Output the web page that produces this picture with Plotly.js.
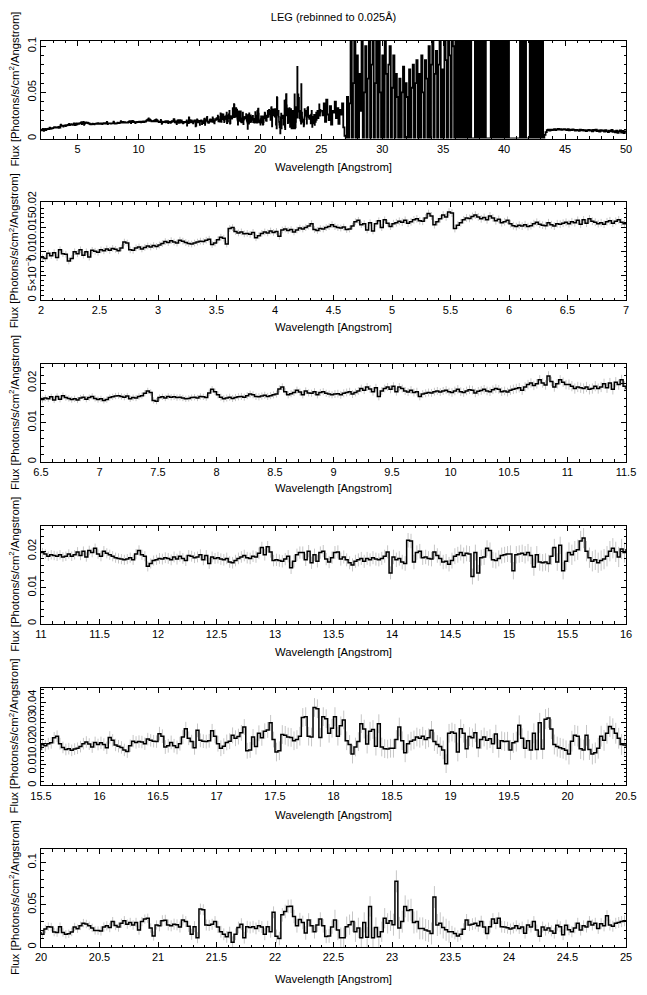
<!DOCTYPE html>
<html><head><meta charset="utf-8">
<script src="https://cdn.plot.ly/plotly-3.0.1.min.js"></script>
<style>html,body{margin:0;padding:0;background:#fff}#chart{width:647px;height:995px}</style>
</head><body><div id="chart"></div>
<script>
// Spectrum values (units of 1e-4 photons/s/cm^2/Angstrom), 0.025 A bins starting at 2.0 A
const binStart = 2.0;
const binWidth = 0.025;
const flux2to7 = [
 88,86,97,92,98,88,104,96,95,81,86,100,96,104,93,100,89,103,101,99,
 104,102,106,103,107,105,102,108,120,118,104,103,108,110,106,109,112,110,113,111,
 114,117,121,119,123,120,118,124,122,119,117,116,118,120,122,121,124,126,115,118,
 125,130,128,116,148,150,142,139,141,137,138,136,140,129,133,138,141,139,143,140,
 142,132,145,147,144,146,141,145,149,147,150,153,158,146,144,148,147,150,152,156,
 152,150,149,151,146,147,153,162,165,156,158,145,160,143,158,164,150,166,159,152,
 158,160,163,161,165,159,162,166,168,164,163,170,179,174,156,162,168,176,172,182,
 180,148,155,160,166,170,169,173,176,172,168,171,166,174,170,164,167,160,162,165,
 158,154,152,155,153,156,152,154,158,161,157,155,154,160,156,153,158,157,159,161,
 158,162,160,165,157,166,159,168,163,161,158,160,157,162,164,159,163,166,161,158];
const flux7to11 = [
 160,156,158,163,165,167,168,166,164,167,160,163,162,166,168,174,180,176,156,154,
 163,165,162,166,164,165,163,164,162,160,161,163,164,162,166,165,163,175,184,178,
 170,164,160,162,164,161,163,165,166,164,168,172,170,166,165,167,169,166,168,170,
 172,185,190,178,170,173,176,182,177,170,180,175,174,178,170,176,178,174,172,170,
 172,173,170,174,176,178,172,176,180,186,182,190,185,178,188,166,180,186,190,184,
 192,178,190,186,180,177,182,176,178,166,172,174,176,175,178,180,177,180,182,178,
 176,180,184,178,176,180,183,182,175,179,181,184,180,178,183,186,184,178,180,177,
 182,184,186,188,182,190,196,200,194,198,208,200,195,218,204,190,198,208,202,196];
const flux11to15p5 = [
 196,192,186,190,188,186,190,184,186,192,186,190,198,188,200,184,202,196,208,192,
 186,200,194,190,186,182,180,178,176,178,182,176,192,202,190,186,158,166,174,176,
 180,178,182,180,176,184,178,186,180,174,188,186,182,184,190,176,188,166,184,180,
 182,178,176,180,170,168,174,180,184,188,182,180,186,184,194,210,190,212,198,174,
 176,174,172,178,186,154,172,190,196,196,176,200,168,190,172,196,200,178,170,182,
 196,198,178,184,176,168,162,172,176,180,172,180,176,182,178,176,180,186,198,140,
 184,176,180,170,166,230,228,170,196,200,182,184,180,178,198,188,180,170,172,164,
 174,186,190,196,188,194,192,130,196,140,182,184,208,202,176,174,180,188,190,192,
 192,146,190,192,194,190,196,188,156,190,170,168,170,166,186,210,170,216,146,172];
const flux15p5to20 = [
 196,190,200,204,228,236,200,182,172,176,168,174,178,186,200,208,198,184,206,196,
 204,196,180,230,216,194,188,182,170,162,190,212,206,210,208,200,222,216,212,210,
 248,236,184,190,206,190,182,200,232,272,226,210,180,264,216,212,210,214,262,236,
 200,178,188,206,212,240,226,234,252,280,166,170,232,186,250,228,260,266,300,220,
 160,166,244,240,232,230,214,220,236,326,330,236,232,374,368,230,330,320,250,274,
 330,236,286,314,214,196,150,184,210,296,270,198,260,268,188,296,184,176,174,178,
 178,220,280,214,156,200,212,218,232,226,236,220,228,264,210,196,186,170,104,250,
 256,250,160,272,250,176,234,228,252,180,220,232,216,224,200,246,178,214,210,212,
 170,204,210,288,226,178,214,170,250,172,300,174,318,324,270,196,186,180,176,168];
const flux20to25 = [
 150,212,240,236,176,170,240,172,150,156,178,236,216,250,282,272,250,226,196,194,
 190,236,250,230,300,254,236,280,310,270,290,260,290,200,300,330,340,224,130,260,
 250,310,316,260,250,270,262,236,320,300,244,150,240,110,448,440,260,256,268,300,
 236,180,150,120,170,56,150,230,270,110,240,230,240,220,250,236,150,240,180,410,
 126,100,380,420,480,482,360,250,324,290,166,320,250,180,260,330,250,125,130,236,
 320,200,110,110,240,264,300,180,226,110,290,116,480,110,230,120,180,340,280,310,
 264,776,226,300,480,430,440,290,300,220,220,200,190,160,590,260,280,230,204,180,
 180,160,130,150,210,320,260,270,280,250,300,236,160,240,330,280,340,240,236,228,
 212,226,250,220,236,164,260,236,300,200,126,236,200,224,190,164,258,240,146,258,
 204,180,226,280,200,250,236,300,260,280,220,276,250,370,260,246,280,290,300,310];
// 1-sigma error level (1e-4 units) for each 0.5 A stretch from 2.0 to 25.0
const errPerHalfAngstrom = [7,7,7,7,7,7,8,8,8,8, 8,8,9,9,10,10,11,12,
 13,14,15,16,17,18,20,22,24, 28,30,33,38,45,45,45,45,48, 50,55,65,70,80,120,130,70,65,65];
// Long-wavelength part for the overview (0.1 A bins from 25.0 to 50.0), 1e-4 units
const longStart = 25.0;
const longWidth = 0.1;
const fluxLong = [
 300,250,380,180,420,260,200,350,150,300, 280,400,220,330,160,310,260,380,120,30,
 0,450,0,380,1200,0,600,1200,0,900, 0,700,300,1200,0,500,1000,0,650,1200,
 0,800,1200,0,600,1100,0,1200,500,0, 900,0,1200,700,0,800,1000,0,550,900,
 0,700,450,0,650,0,500,780,0,600, 450,0,750,0,550,800,0,600,850,0,
 700,0,900,500,0,850,650,0,1000,0, 800,1200,0,700,950,0,800,1200,0,750,
 0,1200,850,0,1200,900,0,1200,1000,0, 1200,0,1200,0,1200,0,1200,0,1200,0,
 1200,0,1200,0,0,0,1200,0,1200,0, 1200,0,1200,0,1200,0,0,0,0,1200,
 0,1200,0,1200,0,1200,0,1200,0,1200, 0,1200,0,1200,0,0,0,0,0,0,
 0,0,0,1200,0,1200,0,1200,0,0, 0,1200,0,1200,0,1200,0,1200,0,1200,
 0,1200,0,40,70,90,95,85,95,90, 95,100,92,98,105,96,100,94,98,102,
 96,92,100,88,95,90,98,94,86,92, 90,84,95,88,92,86,90,80,88,94,
 86,90,78,92,85,96,80,88,76,90, 82,88,74,90,80,70,86,78,92,72,
 80,68,84,60,78,88,64,82,58,76];

// Axis ticks (values and labels)
const xRanges = [[2,50],[2,7],[6.5,11.5],[11,16],[15.5,20.5],[20,25]];
const yRanges = [[0,0.106],[0,0.0202],[0,0.0248],[0,0.027],[0,0.047],[0,0.1156]];
const xMajor = [5,0.5,0.5,0.5,0.5,0.5];
const xMinor = [1,0.1,0.1,0.1,0.1,0.1];
const yTickVals = [[0,0.05,0.1],[0,0.005,0.01,0.015,0.02],[0,0.01,0.02],[0,0.01,0.02],[0,0.01,0.02,0.03,0.04],[0,0.05,0.1]];
const yTickText = [['0','0.05','0.1'],['0','5×10<sup>−3</sup>','0.01','0.015','0.02'],['0','0.01','0.02'],['0','0.01','0.02'],['0','0.01','0.02','0.03','0.04'],['0','0.05','0.1']];
const yMinor = [0.01,0.001,0.002,0.002,0.002,0.01];
const titleText = 'LEG (rebinned to 0.025Å)';
const xTitle = 'Wavelength [Angstrom]';
const yTitle = 'Flux [Photons/s/cm<sup>2</sup>/Angstrom]';

// ---- build ----
const flux = [].concat(flux2to7, flux7to11, flux11to15p5, flux15p5to20, flux20to25).map(v => v * 1e-4);
const err = flux.map((v, i) => errPerHalfAngstrom[Math.floor(i / 20)] * 1e-4);
const left = flux.map((v, i) => binStart + i * binWidth);
const center = left.map(l => l + binWidth / 2);
const longVals = fluxLong.map(v => v * 1e-4);
const longLeft = longVals.map((v, i) => longStart + i * longWidth);

const W = 647, H = 995, L = 41, R = 21;
const FONT = 'Liberation Sans, Arial, sans-serif';
const panelTop = [40.7, 202.4, 364.1, 525.8, 687.5, 849.2];
const panelH = 97.8;
const xTitleY = [167, 327, 488, 652, 815, 979];
const pw = W - L - R;

const traces = [];
const layout = {
  width: W, height: H, showlegend: false,
  margin: {l: L, r: R, t: 0, b: 0, autoexpand: false},
  paper_bgcolor: '#fff', plot_bgcolor: '#fff',
  font: {family: FONT, size: 11, color: '#000'},
  title: {text: titleText, x: 0.5, xref: 'paper', xanchor: 'center', y: 1 - 17 / H, yref: 'container', yanchor: 'middle', font: {family: FONT, size: 11, color: '#000'}},
  annotations: []
};

for (let p = 0; p < 6; p++) {
  const xa = p === 0 ? 'x' : 'x' + (p + 1);
  const ya = p === 0 ? 'y' : 'y' + (p + 1);
  const [lo, hi] = xRanges[p];
  const idx = [];
  for (let i = 0; i < flux.length; i++) if (center[i] > lo - binWidth && center[i] < hi + binWidth) idx.push(i);
  if (p > 0) {
    traces.push({type: 'scatter', mode: 'markers', x: idx.map(i => center[i]), y: idx.map(i => flux[i]), xaxis: xa, yaxis: ya,
      marker: {size: 1, color: 'rgba(0,0,0,0)'}, hoverinfo: 'skip',
      error_y: {type: 'data', array: idx.map(i => err[i]), visible: true, color: '#c6c6c6', thickness: 1, width: 0}});
  }
  const last = idx[idx.length - 1];
  const sx = idx.map(i => left[i]).concat([left[last] + binWidth]);
  const sy = idx.map(i => flux[i]).concat([flux[last]]);
  traces.push({type: 'scatter', mode: 'lines', x: sx, y: sy, xaxis: xa, yaxis: ya,
    line: {color: '#000', width: p === 0 ? 1.6 : 1.5, shape: 'hv'}, hoverinfo: 'skip'});
  if (p === 0) {
    traces.push({type: 'scatter', mode: 'lines', xaxis: xa, yaxis: ya, hoverinfo: 'skip',
      x: longLeft.concat([longLeft[longLeft.length - 1] + longWidth]),
      y: longVals.concat([longVals[longVals.length - 1]]),
      line: {color: '#000', width: 1.8, shape: 'hv'}});
  }

  const top = panelTop[p], bot = top + panelH;
  const axCommon = {showline: true, linecolor: '#000', linewidth: 1, mirror: 'ticks', ticks: 'inside',
    ticklen: 5, tickwidth: 1, tickcolor: '#000', showgrid: false, zeroline: false,
    tickfont: {family: FONT, size: 11, color: '#000'}, automargin: false, fixedrange: true};
  layout[p === 0 ? 'xaxis' : 'xaxis' + (p + 1)] = Object.assign({}, axCommon, {
    domain: [0, 1], anchor: ya, range: xRanges[p], tickmode: 'linear', tick0: 0, dtick: xMajor[p],
    minor: {tickmode: 'linear', tick0: 0, dtick: xMinor[p], ticks: 'inside', ticklen: 2.5, tickwidth: 1, tickcolor: '#000', showgrid: false}});
  layout[p === 0 ? 'yaxis' : 'yaxis' + (p + 1)] = Object.assign({}, axCommon, {
    domain: [1 - bot / H, 1 - top / H], anchor: xa, range: yRanges[p], tickmode: 'array',
    tickvals: yTickVals[p], ticktext: yTickText[p], tickangle: -90,
    minor: {tickmode: 'linear', tick0: 0, dtick: yMinor[p], ticks: 'inside', ticklen: 2.5, tickwidth: 1, tickcolor: '#000', showgrid: false}});
  layout.annotations.push({text: xTitle, xref: 'paper', yref: 'paper', x: 0.5, y: 1 - xTitleY[p] / H,
    xanchor: 'center', yanchor: 'middle', showarrow: false, font: {family: FONT, size: 11.3, color: '#000'}});
  layout.annotations.push({text: yTitle, xref: 'paper', yref: 'paper', x: (14 - L) / pw, y: 1 - (top + panelH / 2) / H,
    xanchor: 'center', yanchor: 'middle', textangle: -90, showarrow: false, font: {family: FONT, size: 11.3, color: '#000'}});
}

Plotly.newPlot('chart', traces, layout, {staticPlot: true, displayModeBar: false});
</script>
</body></html>
